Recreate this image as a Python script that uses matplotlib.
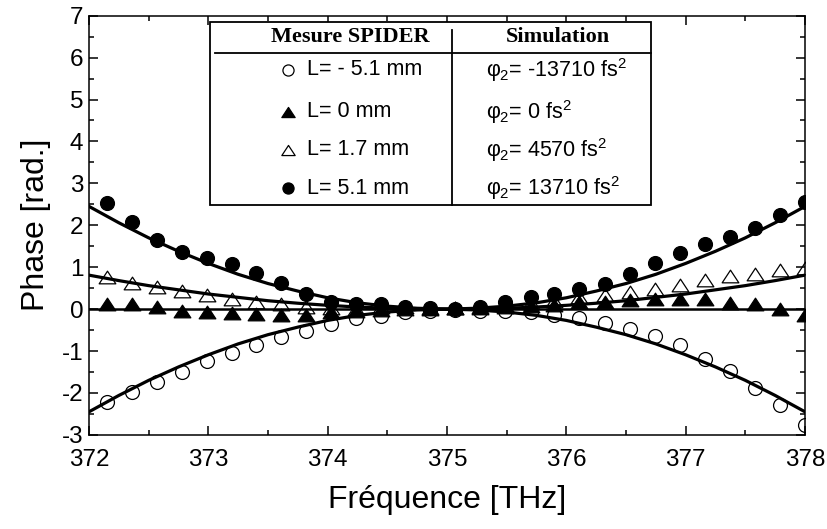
import matplotlib
matplotlib.use("Agg")
import matplotlib.pyplot as plt
from matplotlib.path import Path
from matplotlib.patches import Rectangle
from matplotlib.lines import Line2D
from matplotlib.ticker import MultipleLocator

plt.rcParams['font.family'] = ['Liberation Sans', 'DejaVu Sans']
plt.rcParams['mathtext.fontset'] = 'custom'
plt.rcParams['mathtext.rm'] = 'Liberation Sans'
plt.rcParams['mathtext.it'] = 'Liberation Sans'
plt.rcParams['axes.unicode_minus'] = False

## mesure SPIDER
freq = [372.15, 372.36, 372.57, 372.78, 372.99, 373.20, 373.40, 373.61, 373.82, 374.03,
        374.24, 374.45, 374.65, 374.86, 375.07, 375.28, 375.49, 375.70, 375.90, 376.11,
        376.32, 376.53, 376.74, 376.95, 377.16, 377.37, 377.58, 377.79, 378.00]
phase_m51 = [-2.21, -1.97, -1.75, -1.49, -1.25, -1.05, -0.85, -0.66, -0.52, -0.36,
             -0.22, -0.16, -0.08, -0.05, -0.02, -0.04, -0.05, -0.08, -0.14, -0.22,
             -0.32, -0.48, -0.65, -0.85, -1.19, -1.48, -1.88, -2.30, -2.76]
phase_0 = [0.12, 0.12, 0.05, -0.04, -0.08, -0.10, -0.11, -0.13, -0.13, -0.08,
           -0.04, -0.02, 0.00, 0.01, 0.02, 0.03, 0.05, 0.08, 0.10, 0.17,
           0.17, 0.22, 0.24, 0.25, 0.24, 0.14, 0.12, 0.00, -0.14]
phase_17 = [0.77, 0.62, 0.52, 0.44, 0.33, 0.24, 0.16, 0.12, 0.05, 0.02,
            0.00, 0.05, 0.04, 0.02, 0.03, 0.05, 0.10, 0.15, 0.20, 0.28,
            0.33, 0.41, 0.49, 0.57, 0.69, 0.78, 0.83, 0.94, 0.97]
phase_51 = [2.52, 2.07, 1.64, 1.36, 1.21, 1.07, 0.86, 0.62, 0.36, 0.17,
            0.12, 0.12, 0.06, 0.02, 0.01, 0.05, 0.16, 0.30, 0.36, 0.48,
            0.61, 0.83, 1.10, 1.33, 1.55, 1.71, 1.93, 2.24, 2.55]

## simulation curves
sim_freq = [372.0, 372.25, 372.5, 372.75, 373.0, 373.25, 373.5, 373.75, 374.0, 374.25,
            374.5, 374.75, 375.0, 375.25, 375.5, 375.75, 376.0, 376.25, 376.5, 376.75,
            377.0, 377.25, 377.5, 377.75, 378.0]
sim_m51 = [-2.45, -2.06, -1.70, -1.38, -1.09, -0.83, -0.61, -0.43, -0.27, -0.15,
           -0.07, -0.02, 0.00, -0.02, -0.07, -0.15, -0.27, -0.43, -0.61, -0.83,
           -1.09, -1.38, -1.70, -2.06, -2.45]
sim_0 = [0.0] * 25
sim_17 = [0.81, 0.68, 0.56, 0.46, 0.36, 0.28, 0.20, 0.14, 0.09, 0.05,
          0.02, 0.01, 0.00, 0.01, 0.02, 0.05, 0.09, 0.14, 0.20, 0.28,
          0.36, 0.46, 0.56, 0.68, 0.81]
sim_51 = [2.45, 2.06, 1.70, 1.38, 1.09, 0.83, 0.61, 0.43, 0.27, 0.15,
          0.07, 0.02, 0.00, 0.02, 0.07, 0.15, 0.27, 0.43, 0.61, 0.83,
          1.09, 1.38, 1.70, 2.06, 2.45]

mesure_labels = ["L= - 5.1 mm", "L= 0 mm", "L= 1.7 mm", "L= 5.1 mm"]
sim_labels = [r"$\varphi_{2}$= -13710 fs$^{2}$", r"$\varphi_{2}$= 0 fs$^{2}$",
              r"$\varphi_{2}$= 4570 fs$^{2}$", r"$\varphi_{2}$= 13710 fs$^{2}$"]

# flattened triangle like the original
tri = Path([(0, 0.76), (-1, -0.76), (1, -0.76), (0, 0.76)],
           [Path.MOVETO, Path.LINETO, Path.LINETO, Path.CLOSEPOLY])

styles = [dict(marker='o', ms=10, mfc='none'),
          dict(marker=tri, ms=12, mfc='black'),
          dict(marker=tri, ms=12, mfc='none'),
          dict(marker='o', ms=10, mfc='black')]

fig = plt.figure(figsize=(8.28, 5.29), dpi=100)
ax = fig.add_axes([0.1075, 0.178, 0.8647, 0.7923])

for ph, st in zip([phase_m51, phase_0, phase_17, phase_51], styles):
    ax.plot(freq, ph, ls='none', mec='black', mew=0.9, zorder=2, **st)

for sim in [sim_m51, sim_17, sim_51]:
    ax.plot(sim_freq, sim, c='black', lw=2.3, zorder=3)
ax.plot(sim_freq, sim_0, c='black', lw=1.8, zorder=3)

ax.set_xlim(372, 378)
ax.set_ylim(-3, 7)
ax.xaxis.set_major_locator(MultipleLocator(1))
ax.xaxis.set_minor_locator(MultipleLocator(0.5))
ax.yaxis.set_major_locator(MultipleLocator(1))
ax.yaxis.set_minor_locator(MultipleLocator(0.5))
ax.tick_params(which='both', direction='in', top=True, right=True, width=1.1,
               labelsize=17.5)
ax.tick_params(which='major', length=6.5)
ax.tick_params(which='minor', length=3.5)
ax.tick_params(axis='x', pad=10)
ax.tick_params(axis='y', pad=4)
for sp in ax.spines.values():
    sp.set_linewidth(1.1)

ax.set_xlabel("Fréquence [THz]", fontsize=23, labelpad=10)
ax.set_ylabel("Phase [rad.]", fontsize=23, labelpad=8)

# table-style legend
T = ax.transAxes
ax.add_patch(Rectangle((0.169, 0.549), 0.6155, 0.4367, transform=T, fill=True,
                       fc='white', ec='black', lw=1.3, zorder=5))
ax.add_line(Line2D([0.176, 0.7845], [0.912, 0.912], transform=T, c='black', lw=1.3, zorder=6))
ax.add_line(Line2D([0.5066, 0.5066], [0.549, 0.966], transform=T, c='black', lw=1.3, zorder=6))
ax.text(0.3645, 0.950, "Mesure SPIDER", transform=T, ha='center', va='center',
        fontsize=16, fontweight='bold', family='Liberation Serif', zorder=7)
ax.text(0.655, 0.950, "Simulation", transform=T, ha='center', va='center',
        fontsize=16, fontweight='bold', family='Liberation Serif', zorder=7)
row_y = [0.8705, 0.771, 0.680, 0.588]
for y, lab, sl, st in zip(row_y, mesure_labels, sim_labels, styles):
    st2 = dict(st)
    st2['ms'] = st['ms'] * 0.8
    ax.plot([0.278], [y], transform=T, ls='none', mec='black', mew=0.9,
            clip_on=False, zorder=7, **st2)
    ax.text(0.304, y, lab, transform=T, ha='left', va='center', fontsize=15.5, zorder=7)
    ax.text(0.555, y, sl, transform=T, ha='left', va='center', fontsize=15.5, zorder=7)

fig.savefig("out.png", dpi=100)
